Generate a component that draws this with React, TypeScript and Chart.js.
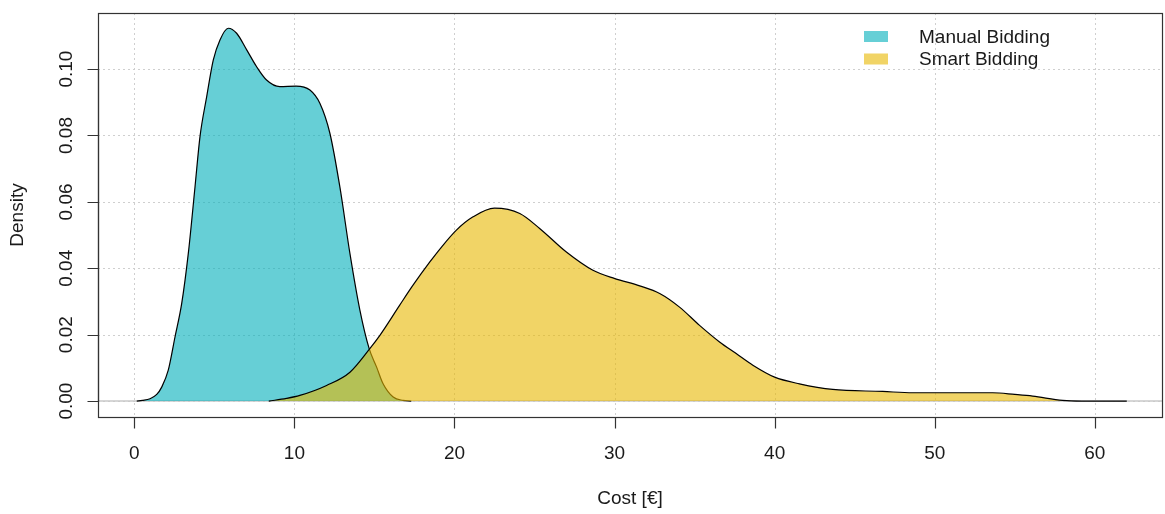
import React, { useEffect, useRef } from "react";
import { Chart, registerables } from "chart.js";

Chart.register(...registerables);

// ---- data ----
const seriesNames = ["Manual Bidding", "Smart Bidding"];

const manualX = [0.15, 0.5, 0.98, 1.4, 1.71, 2.12, 2.54, 2.96, 3.37, 3.79, 4.1, 4.52, 4.93, 5.35, 5.87, 6.39, 7.02, 7.64, 8.26, 9.09, 10.1, 10.97, 11.59, 12.22, 12.84, 13.47, 14.09, 14.67, 15.13, 15.54, 16.17, 16.79, 17.3];
const manualY = [0, 0.0002, 0.0007, 0.002, 0.0042, 0.0093, 0.0193, 0.0294, 0.0444, 0.0645, 0.0796, 0.0917, 0.1027, 0.1088, 0.1123, 0.1108, 0.1058, 0.1007, 0.0967, 0.0947, 0.0949, 0.0937, 0.0897, 0.0806, 0.0645, 0.0444, 0.0274, 0.0158, 0.0103, 0.0052, 0.0012, 0.0002, 0];

const smartX = [8.4, 9.5, 10.34, 12.01, 13.47, 14.71, 15.34, 16.58, 17.41, 18.46, 19.19, 20.12, 21.16, 22.5, 24.08, 25.32, 26.99, 28.65, 30.02, 31.57, 32.82, 34.06, 35.31, 36.56, 37.6, 38.64, 40.0, 41.55, 43.63, 46.75, 48.63, 51.0, 53.62, 55.0, 56.12, 57.99, 59.2, 62.0];
const smartY = [0, 0.0008, 0.0017, 0.0047, 0.0087, 0.0158, 0.0198, 0.0289, 0.0349, 0.0419, 0.0464, 0.0515, 0.0555, 0.0581, 0.0565, 0.052, 0.0449, 0.0394, 0.0369, 0.0347, 0.0324, 0.0283, 0.0228, 0.0178, 0.0143, 0.0108, 0.0072, 0.0052, 0.0035, 0.0029, 0.0025, 0.0025, 0.0025, 0.002, 0.0015, 0.0002, 0, 0];

const xTicks = [0, 10, 20, 30, 40, 50, 60];
const xTickLabels = ["0", "10", "20", "30", "40", "50", "60"];
const yTicks = [0, 0.02, 0.04, 0.06, 0.08, 0.1];
const yTickLabels = ["0.00", "0.02", "0.04", "0.06", "0.08", "0.10"];

const xLabel = "Cost [€]";
const yLabel = "Density";

const fillColors = ["rgba(0,175,187,0.6)", "rgba(231,184,0,0.6)"];

const FONT = '"Liberation Sans", Arial, Helvetica, sans-serif';
const FS = 19;

export default function App() {
  const ref = useRef<HTMLCanvasElement>(null);

  useEffect(() => {
    document.body.style.margin = "0";
    const canvas = ref.current;
    if (!canvas) return;

    const rPlot = {
      id: "rplot",
      beforeDatasetsDraw(chart: any) {
        const { ctx, chartArea: a, scales } = chart;
        const xs = scales.x;
        const ys = scales.y;
        ctx.save();
        // dotted grid
        ctx.strokeStyle = "#cfcfcf";
        ctx.lineWidth = 1;
        ctx.setLineDash([2, 3]);
        xTicks.forEach((v) => {
          const px = Math.round(xs.getPixelForValue(v)) + 0.5;
          ctx.beginPath();
          ctx.moveTo(px, a.top);
          ctx.lineTo(px, a.bottom);
          ctx.stroke();
        });
        yTicks.forEach((v) => {
          const py = Math.round(ys.getPixelForValue(v)) + 0.5;
          ctx.beginPath();
          ctx.moveTo(a.left, py);
          ctx.lineTo(a.right, py);
          ctx.stroke();
        });
        ctx.setLineDash([]);
        // horizontal line at 0
        ctx.strokeStyle = "#c8c8c8";
        ctx.lineWidth = 1.5;
        const y0 = ys.getPixelForValue(0);
        ctx.beginPath();
        ctx.moveTo(a.left, y0);
        ctx.lineTo(a.right, y0);
        ctx.stroke();
        ctx.restore();
      },
      afterDatasetsDraw(chart: any) {
        const { ctx, chartArea: a, scales } = chart;
        const xs = scales.x;
        const ys = scales.y;
        ctx.save();
        // box
        ctx.strokeStyle = "#333";
        ctx.lineWidth = 1.2;
        ctx.strokeRect(Math.round(a.left) + 0.5, Math.round(a.top) + 0.5, Math.round(a.right - a.left), Math.round(a.bottom - a.top));
        const bottom = Math.round(a.bottom) + 0.5;
        const left = Math.round(a.left) + 0.5;
        const tickLen = 11;
        // x axis
        ctx.beginPath();
        ctx.moveTo(xs.getPixelForValue(xTicks[0]), bottom);
        ctx.lineTo(xs.getPixelForValue(xTicks[xTicks.length - 1]), bottom);
        xTicks.forEach((v) => {
          const px = Math.round(xs.getPixelForValue(v)) + 0.5;
          ctx.moveTo(px, bottom);
          ctx.lineTo(px, bottom + tickLen);
        });
        // y axis
        ctx.moveTo(left, ys.getPixelForValue(yTicks[0]));
        ctx.lineTo(left, ys.getPixelForValue(yTicks[yTicks.length - 1]));
        yTicks.forEach((v) => {
          const py = Math.round(ys.getPixelForValue(v)) + 0.5;
          ctx.moveTo(left, py);
          ctx.lineTo(left - tickLen, py);
        });
        ctx.stroke();

        ctx.fillStyle = "#1a1a1a";
        ctx.font = `${FS}px ${FONT}`;
        // x tick labels
        ctx.textAlign = "center";
        ctx.textBaseline = "alphabetic";
        xTicks.forEach((v, i) => {
          ctx.fillText(xTickLabels[i], xs.getPixelForValue(v), 459);
        });
        // y tick labels (rotated)
        yTicks.forEach((v, i) => {
          ctx.save();
          ctx.translate(71.5, ys.getPixelForValue(v));
          ctx.rotate(-Math.PI / 2);
          ctx.textAlign = "center";
          ctx.fillText(yTickLabels[i], 0, 0);
          ctx.restore();
        });
        // axis titles
        ctx.textAlign = "center";
        ctx.fillText(xLabel, (a.left + a.right) / 2, 504);
        ctx.save();
        ctx.translate(23, (a.top + a.bottom) / 2);
        ctx.rotate(-Math.PI / 2);
        ctx.fillText(yLabel, 0, 0);
        ctx.restore();

        // legend
        const legY = [36.5, 59];
        seriesNames.forEach((name, i) => {
          ctx.fillStyle = fillColors[i];
          ctx.fillRect(864, legY[i] - 5.5, 24, 11);
          ctx.fillStyle = "#1a1a1a";
          ctx.textAlign = "left";
          ctx.textBaseline = "middle";
          ctx.fillText(name, 919, legY[i] + 1);
        });
        ctx.restore();
      },
    };

    const chart = new Chart(canvas, {
      type: "line",
      data: {
        datasets: [
          {
            label: seriesNames[0],
            data: manualX.map((x, i) => ({ x, y: manualY[i] })),
            borderColor: "#000",
            borderWidth: 1.2,
            backgroundColor: fillColors[0],
            fill: "origin",
            pointRadius: 0,
            cubicInterpolationMode: "monotone",
            order: 2,
          },
          {
            label: seriesNames[1],
            data: smartX.map((x, i) => ({ x, y: smartY[i] })),
            borderColor: "#000",
            borderWidth: 1.2,
            backgroundColor: fillColors[1],
            fill: "origin",
            pointRadius: 0,
            cubicInterpolationMode: "monotone",
            order: 1,
          },
        ],
      },
      options: {
        responsive: false,
        animation: false,
        events: [],
        layout: { padding: { left: 98, top: 13, right: 3, bottom: 97 } },
        scales: {
          x: { type: "linear", min: -2.27, max: 64.2, display: false },
          y: { type: "linear", min: -0.0048, max: 0.1169, display: false },
        },
        plugins: { legend: { display: false }, tooltip: { enabled: false } },
      },
      plugins: [rPlot],
    } as any);

    return () => chart.destroy();
  }, []);

  return (
    <div style={{ position: "absolute", left: 0, top: 0, width: 1165, height: 514, background: "#fff" }}>
      <canvas ref={ref} width={1165} height={514} style={{ display: "block" }} />
    </div>
  );
}
